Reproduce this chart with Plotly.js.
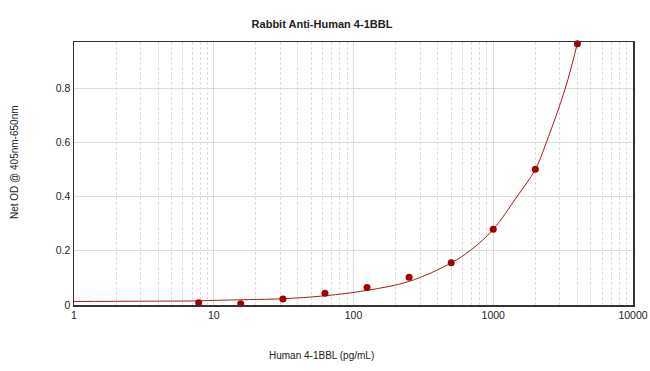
<!DOCTYPE html>
<html>
<head>
<meta charset="utf-8">
<script src="https://cdn.plot.ly/plotly-3.0.1.min.js"></script>
<style>html,body{margin:0;padding:0;background:#fff;}#chart{width:650px;height:371px;}</style>
</head>
<body>
<div id="chart"></div>
<script>
// Measured standards (pg/mL) and net OD
const concentrations = [7.8, 15.6, 31.25, 62.5, 125, 250, 500, 1000, 2000, 4000];
const netOD = [0.008, 0.005, 0.022, 0.043, 0.065, 0.102, 0.156, 0.279, 0.501, 0.964];

// Fitted curve
const curveX = [1, 3, 7, 10, 18, 31, 62.5, 125, 250, 500, 700, 1000, 1480, 2000, 2400, 3280, 4000];
const curveY = [0.013, 0.014, 0.015, 0.017, 0.020, 0.023, 0.034, 0.054, 0.087, 0.155, 0.205, 0.279, 0.40, 0.50, 0.60, 0.80, 0.965];

const xTickVals = [1, 10, 100, 1000, 10000];
const xTickText = ['1', '10', '100', '1000', '10000'];
const yTickVals = [0, 0.2, 0.4, 0.6, 0.8];
const yTickText = ['0', '0.2', '0.4', '0.6', '0.8'];

const chartTitle = 'Rabbit Anti-Human 4-1BBL';
const xTitle = 'Human 4-1BBL (pg/mL)';
const yTitle = 'Net OD @ 405nm-650nm';

const FONT = '"Liberation Sans", Arial, sans-serif';

const traces = [
  {
    x: curveX, y: curveY, type: 'scatter', mode: 'lines',
    line: {color: '#b01818', width: 1, shape: 'spline', smoothing: 1},
    hoverinfo: 'skip', showlegend: false, cliponaxis: true
  },
  {
    x: concentrations, y: netOD, type: 'scatter', mode: 'markers',
    marker: {color: '#a00000', size: 7},
    showlegend: false, cliponaxis: false
  }
];

const layout = {
  width: 650, height: 371,
  margin: {l: 74, r: 17, t: 42, b: 66},
  paper_bgcolor: '#fff', plot_bgcolor: '#fff',
  font: {family: FONT, size: 10, color: '#222'},
  showlegend: false,
  title: {text: '<b>' + chartTitle + '</b>', x: 322/650, xanchor: 'center', y: 1 - 24/371, yanchor: 'middle',
          font: {family: FONT, size: 11, color: '#222'}},
  xaxis: {
    type: 'log', range: [0, 4],
    tickvals: xTickVals, ticktext: xTickText,
    showgrid: true, gridcolor: '#dcdcdc', gridwidth: 1,
    minor: {dtick: 'D1', showgrid: true, gridcolor: '#dedede', griddash: '3px,2px', gridwidth: 1, ticks: ''},
    showline: true, linecolor: '#333', linewidth: 1.5, mirror: true,
    ticks: '', zeroline: false,
    tickfont: {family: FONT, size: 10.5, color: '#222'}
  },
  yaxis: {
    range: [0, 0.97],
    tickvals: yTickVals, ticktext: yTickText,
    showgrid: true, gridcolor: '#dcdcdc', gridwidth: 1,
    showline: true, linecolor: '#333', linewidth: 1.5, mirror: true,
    ticks: '', zeroline: false,
    tickfont: {family: FONT, size: 10.5, color: '#222'}
  },
  annotations: [
    {text: xTitle, xref: 'paper', yref: 'paper', x: (321-74)/559, y: -(355-305)/263,
     xanchor: 'center', yanchor: 'middle', showarrow: false, font: {family: FONT, size: 10, color: '#222'}},
    {text: yTitle, xref: 'paper', yref: 'paper', x: (14-74)/559, y: (305-162)/263, textangle: -90,
     xanchor: 'center', yanchor: 'middle', showarrow: false, font: {family: FONT, size: 10, color: '#222'}}
  ]
};

Plotly.newPlot('chart', traces, layout, {displayModeBar: false, staticPlot: true});
</script>
</body>
</html>
